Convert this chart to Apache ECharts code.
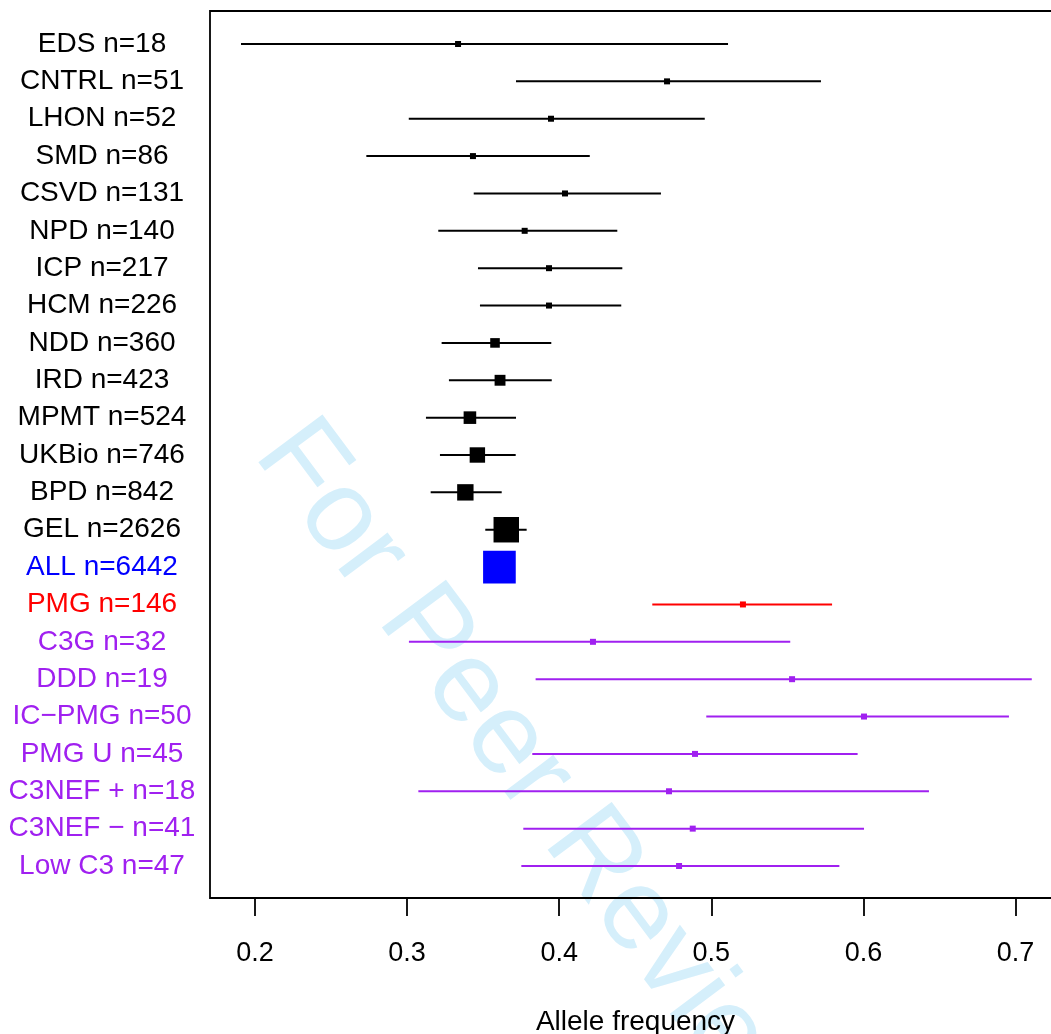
<!DOCTYPE html>
<html>
<head>
<meta charset="utf-8">
<script src="https://cdn.jsdelivr.net/npm/echarts@6/dist/echarts.min.js"></script>
<style>
  html, body { margin: 0; padding: 0; background: #fff; }
  #root { width: 1051px; height: 1034px; }
</style>
</head>
<body>
<div id="root"></div>
<script>
// cohorts, top to bottom
var cohorts = ['EDS', 'CNTRL', 'LHON', 'SMD', 'CSVD', 'NPD', 'ICP', 'HCM', 'NDD', 'IRD', 'MPMT', 'UKBio', 'BPD', 'GEL', 'ALL',
  'PMG', 'C3G', 'DDD', 'IC\u2212PMG', 'PMG U', 'C3NEF +', 'C3NEF \u2212', 'Low C3'];
var counts = [18, 51, 52, 86, 131, 140, 217, 226, 360, 423, 524, 746, 842, 2626, 6442,
  146, 32, 19, 50, 45, 18, 41, 47];
var groups = ['ref', 'ref', 'ref', 'ref', 'ref', 'ref', 'ref', 'ref', 'ref', 'ref', 'ref', 'ref', 'ref', 'ref', 'all',
  'pmg', 'c3', 'c3', 'c3', 'c3', 'c3', 'c3', 'c3'];
var freq = [0.3335, 0.4709, 0.3946, 0.3433, 0.4038, 0.3773, 0.3933, 0.3933, 0.3578, 0.3611, 0.3413, 0.3462, 0.3383, 0.3652, 0.3607,
  0.5208, 0.4222, 0.5531, 0.6004, 0.4893, 0.4722, 0.4878, 0.4788];
var lower = [0.1908, 0.3716, 0.3011, 0.2732, 0.3438, 0.3205, 0.3466, 0.3479, 0.3227, 0.3275, 0.3124, 0.3216, 0.3155, 0.3514, 0.3550,
  0.4612, 0.3012, 0.3845, 0.4967, 0.3823, 0.3074, 0.3764, 0.3751];
var upper = [0.5110, 0.5721, 0.4957, 0.4201, 0.4669, 0.4382, 0.4415, 0.4408, 0.3948, 0.3951, 0.3716, 0.3714, 0.3622, 0.3786, 0.3665,
  0.5794, 0.5519, 0.7107, 0.6957, 0.5962, 0.6431, 0.6004, 0.5842];
var xTicks = [0.2, 0.3, 0.4, 0.5, 0.6, 0.7];

var groupColor = { ref: '#000000', all: '#0000ff', pmg: '#ff0000', c3: '#a020f0' };
var font = '"Liberation Sans", Arial, Helvetica, sans-serif';

var rowLabels = cohorts.map(function (c, i) { return c + ' n=' + counts[i]; });
var ciData = cohorts.map(function (c, i) { return [lower[i], upper[i], i]; });
var pointData = cohorts.map(function (c, i) { return [freq[i], i]; });

var chart = echarts.init(document.getElementById('root'), null, { renderer: 'canvas' });

var xMin = 0.170414, xMax = 0.729915;

var option = {
  backgroundColor: '#ffffff',
  animation: false,
  grid: [
    // frame + x axis
    { left: 210, right: -10, top: 11, bottom: 136, show: true, borderColor: '#000', borderWidth: 1.8, outerBoundsMode: 'none' },
    // rows
    { left: 210, right: -10, top: 25.32, bottom: 149.32, outerBoundsMode: 'none' }
  ],
  xAxis: [
    {
      gridIndex: 0, type: 'value', min: xMin, max: xMax,
      axisLine: { show: false },
      splitLine: { show: false },
      axisTick: { show: true, length: 18, customValues: xTicks, lineStyle: { color: '#000', width: 1.8 } },
      axisLabel: { customValues: xTicks, margin: 42, fontSize: 27, color: '#000', fontFamily: font,
        formatter: function (v) { return v.toFixed(1); } },
      name: 'Allele frequency', nameLocation: 'middle', nameGap: 110,
      nameTextStyle: { fontSize: 28, color: '#000', fontFamily: font }
    },
    {
      gridIndex: 1, type: 'value', min: xMin, max: xMax, show: false
    }
  ],
  yAxis: [
    { gridIndex: 0, type: 'value', min: 0, max: 1, show: false },
    {
      gridIndex: 1, type: 'category', data: rowLabels, inverse: true,
      axisLine: { show: false }, axisTick: { show: false }, splitLine: { show: false },
      axisLabel: {
        align: 'center', margin: 108, fontSize: 28, fontFamily: font, interval: 0, padding: [4, 0, 0, 0],
        color: function (v, i) { return groupColor[groups[i]]; }
      }
    }
  ],
  graphic: [{
    type: 'text', z: -10, x: 232, y: 470, rotation: -0.93,
    style: { text: 'For Peer Review', fontSize: 116, fontFamily: font, fill: '#d5effb',
      align: 'left', verticalAlign: 'bottom' }
  }],
  series: [
    {
      type: 'custom', xAxisIndex: 1, yAxisIndex: 1, z: 3,
      encode: { x: [0, 1], y: 2 },
      data: ciData,
      renderItem: function (params, api) {
        var i = api.value(2);
        var a = api.coord([api.value(0), i]);
        var b = api.coord([api.value(1), i]);
        return {
          type: 'line',
          shape: { x1: a[0], y1: a[1], x2: b[0], y2: b[1] },
          style: { stroke: groupColor[groups[i]], lineWidth: 2 }
        };
      }
    },
    {
      type: 'scatter', xAxisIndex: 1, yAxisIndex: 1, z: 4,
      symbol: 'rect',
      data: pointData,
      symbolSize: function (v, p) { return Math.max(6, 8 * Math.log(counts[p.dataIndex]) - 37.5); },
      itemStyle: { color: function (p) { return groupColor[groups[p.dataIndex]]; }, opacity: 1 }
    }
  ]
};

chart.setOption(option);
</script>
</body>
</html>
